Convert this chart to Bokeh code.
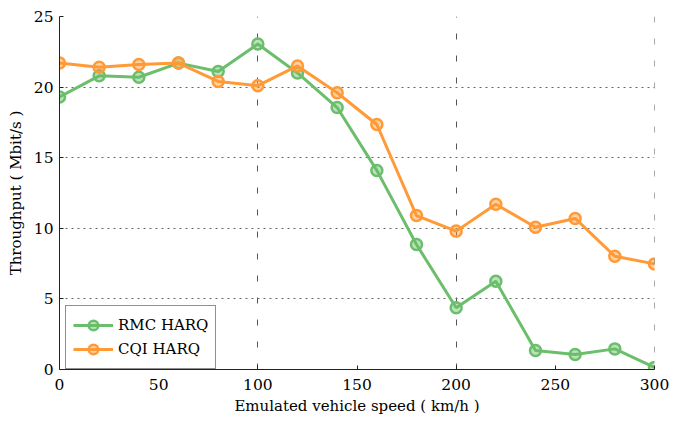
from bokeh.plotting import figure
from bokeh.models import Range1d, FixedTicker, Legend, LegendItem, Span
from bokeh.embed import file_html
from bokeh.resources import INLINE

# Emulated vehicle speed (km/h)
speed = [0, 20, 40, 60, 80, 100, 120, 140, 160, 180, 200, 220, 240, 260, 280, 300]
# Throughput (Mbit/s) per scheme
rmc_harq = [19.3, 20.8, 20.7, 21.7, 21.1, 23.05, 21.0, 18.55, 14.1, 8.85, 4.37, 6.25, 1.34, 1.06, 1.46, 0.15]
cqi_harq = [21.7, 21.4, 21.6, 21.7, 20.4, 20.1, 21.5, 19.6, 17.35, 10.9, 9.8, 11.7, 10.07, 10.7, 8.02, 7.48]

x_ticks = [0, 50, 100, 150, 200, 250, 300]
y_ticks = [0, 5, 10, 15, 20, 25]

GREEN = "#6BBE6B"
ORANGE = "#FF9A36"
FONT = "DejaVu Serif"

p = figure(width=682, height=424, output_backend="svg", toolbar_location=None,
           x_range=Range1d(0, 300), y_range=Range1d(0, 25),
           min_border_left=59, min_border_right=28, min_border_top=16, min_border_bottom=55)
p.outline_line_color = None
p.background_fill_color = "white"
p.border_fill_color = "white"

# axes
for ax in (p.xaxis, p.yaxis):
    ax.axis_line_color = "#222222"
    ax.axis_line_width = 1
    ax.major_tick_in = 4
    ax.major_tick_out = 0
    ax.major_tick_line_color = "#222222"
    ax.minor_tick_line_color = None
    ax.major_label_text_font = FONT
    ax.major_label_text_font_size = "15.5px"
    ax.major_label_text_color = "black"
    ax.axis_label_text_font = FONT
    ax.axis_label_text_font_size = "15px"
    ax.axis_label_text_font_style = "normal"
    ax.axis_label_text_color = "black"

p.xaxis.ticker = FixedTicker(ticks=x_ticks)
p.yaxis.ticker = FixedTicker(ticks=y_ticks)
p.xaxis.axis_label = "Emulated vehicle speed ( km/h )"
p.yaxis.axis_label = "Throughput ( Mbit/s )"
p.xaxis.major_label_standoff = 9
p.yaxis.major_label_standoff = 6
p.xaxis.axis_label_standoff = 4
p.yaxis.axis_label_standoff = 6

# grid
p.xgrid.ticker = FixedTicker(ticks=[100, 200])
p.xgrid.grid_line_color = "#555555"
p.xgrid.grid_line_dash = "6 16"
p.xgrid.grid_line_width = 1
p.ygrid.ticker = FixedTicker(ticks=[5, 10, 15, 20])
p.ygrid.grid_line_color = "#666666"
p.ygrid.grid_line_dash = "2 4"
p.ygrid.grid_line_width = 1
# dashed edge line at the right end of the speed range
p.add_layout(Span(location=300, dimension="height", line_color="#555555",
                  line_dash="6 16", line_width=1))

# series
r_line = p.line(speed, rmc_harq, line_color=GREEN, line_width=3)
r_pts = p.scatter(speed, rmc_harq, marker="circle", size=11, line_color=GREEN,
                  line_width=2.5, fill_color=GREEN, fill_alpha=0.45)
c_line = p.line(speed, cqi_harq, line_color=ORANGE, line_width=3)
c_pts = p.scatter(speed, cqi_harq, marker="circle", size=11, line_color=ORANGE,
                  line_width=2.5, fill_color=ORANGE, fill_alpha=0.45)

legend = Legend(items=[LegendItem(label="RMC HARQ", renderers=[r_line, r_pts]),
                       LegendItem(label="CQI HARQ", renderers=[c_line, c_pts])],
                location=(6, 0))
legend.label_text_font = FONT
legend.label_text_font_size = "15px"
legend.label_text_color = "black"
legend.glyph_width = 40
legend.glyph_height = 24
legend.label_height = 24
legend.label_standoff = 5
legend.spacing = 0
legend.padding = 7
legend.margin = 0
legend.border_line_color = "#222222"
legend.border_line_width = 1
legend.background_fill_color = "white"
legend.background_fill_alpha = 1
p.add_layout(legend, "center")

open("out.html", "w").write(file_html(p, INLINE))
